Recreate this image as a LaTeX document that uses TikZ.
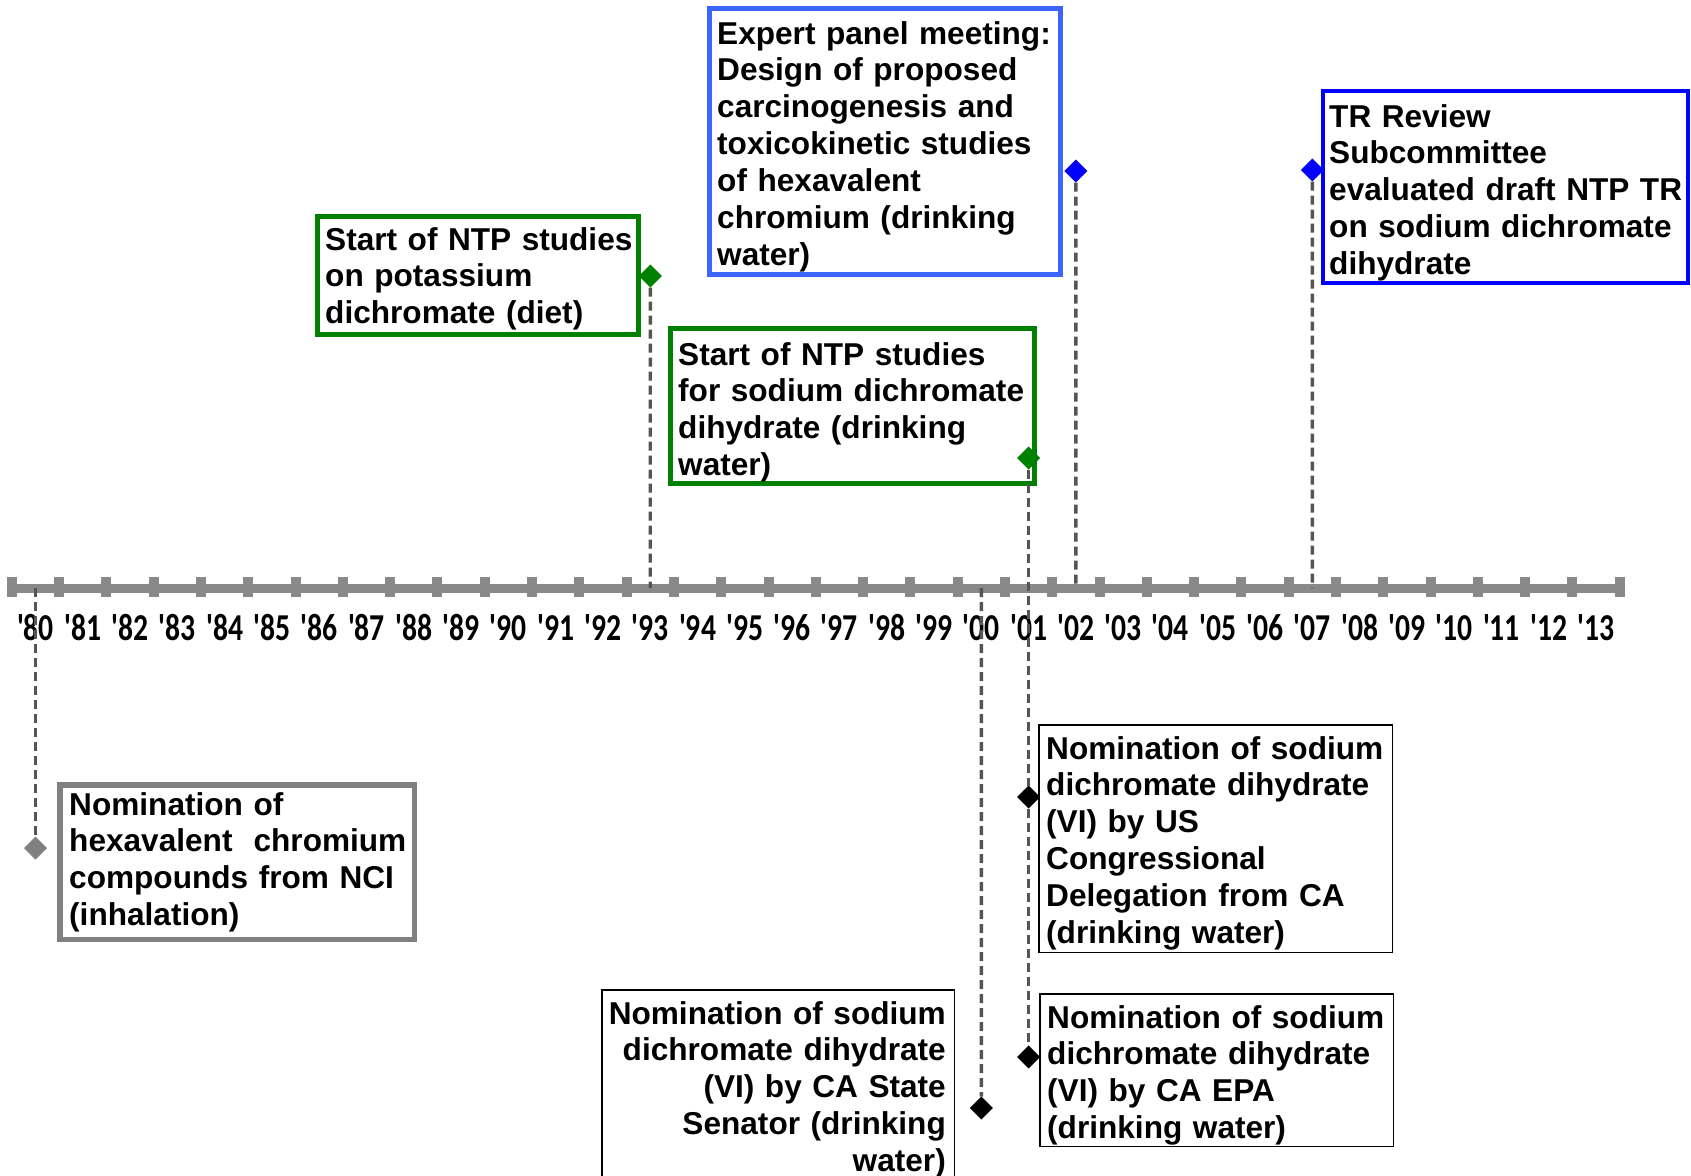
\documentclass[tikz,border=0pt]{standalone}
\usepackage{fontspec}
\setmainfont{Liberation Sans}
\newfontfamily\yearfont{Carlito}
\usetikzlibrary{shapes.geometric}

\definecolor{axisgray}{RGB}{137,137,137}
\definecolor{linkgray}{RGB}{85,85,85}
\definecolor{ntpgreen}{RGB}{0,128,0}
\definecolor{panelblue}{RGB}{60,100,255}
\definecolor{trblue}{RGB}{0,0,255}
\definecolor{nomgray}{RGB}{128,128,128}

\tikzset{
  frame/.style={draw, inner sep=0pt, outer sep=0pt, anchor=north west},
  boxtext/.style={inner sep=0pt, text width=420pt, align=left, anchor=base west,
    font=\fontsize{31.6}{36.9}\selectfont\bfseries},
  boxtextr/.style={boxtext, align=right, anchor=base east},
  yearlabel/.style={inner sep=0pt, anchor=base,
    font=\fontsize{38}{40}\yearfont\bfseries},
  eventmark/.style={diamond, minimum size=23pt, inner sep=0pt, outer sep=0pt, draw=none},
  conn/.style={draw=linkgray, line width=3.4pt, dash pattern=on 9pt off 5pt},
}

\begin{document}
\begin{tikzpicture}[x=1pt, y=-1pt]
\useasboundingbox (0,0) rectangle (1691,1175);

% time axis with half-year ticks
\draw[axisgray, line width=9pt] (11.85,588) -- (1619.7,588);
\foreach \k in {0,...,34}
  \fill[axisgray] ({35.5+(\k-0.5)*47.29-5},577) rectangle ({35.5+(\k-0.5)*47.29+5},597);

% year positions and labels
\foreach \lab [count=\i from 0] in {80,81,82,83,84,85,86,87,88,89,90,91,92,93,94,95,96,97,98,99,00,01,02,03,04,05,06,07,08,09,10,11,12,13} {
  \coordinate (yr\lab) at ({35.5+\i*47.29},588);
  \node[yearlabel] (lab\lab) at ({35.5+\i*47.29},640) {\scalebox{0.78}[1]{\textquotesingle\lab}};
}

% event boxes
\node[frame, draw=ntpgreen, line width=5pt, minimum width=321pt, minimum height=118pt] (f93) at (317.5,216.5) {};
\node[boxtext] (t93) at (325,250) {Start of NTP studies\\on potassium\\dichromate (diet)};

\node[frame, draw=ntpgreen, line width=5pt, minimum width=364pt, minimum height=155pt] (f01g) at (670.5,328.5) {};
\node[boxtext] (t01g) at (678,365) {Start of NTP studies\\for sodium dichromate\\dihydrate (drinking\\water)};

\node[frame, draw=panelblue, line width=5pt, minimum width=351pt, minimum height=266pt] (f02) at (709.5,8.5) {};
\node[boxtext] (t02) at (717,44) {Expert panel meeting:\\Design of proposed\\carcinogenesis and\\toxicokinetic studies\\of hexavalent\\chromium (drinking\\water)};

\node[frame, draw=trblue, line width=4pt, minimum width=365pt, minimum height=192pt] (f07) at (1323,91) {};
\node[boxtext] (t07) at (1329,127) {TR Review\\Subcommittee\\evaluated draft NTP TR\\on sodium dichromate\\dihydrate};

\node[frame, draw=nomgray, line width=5.5pt, minimum width=354.5pt, minimum height=154.5pt] (f80) at (59.75,784.75) {};
\node[boxtext] (t80) at (69,815) {Nomination of\\hexavalent\ \ chromium\\compounds from NCI\\(inhalation)};

\node[frame, draw=black, line width=1.5pt, minimum width=353.5pt, minimum height=227.5pt] (f01a) at (1038.75,724.75) {};
\node[boxtext] (t01a) at (1046,759) {Nomination of sodium\\dichromate dihydrate\\(VI) by US\\Congressional\\Delegation from CA\\(drinking water)};

\node[frame, draw=black, line width=1.5pt, minimum width=353.5pt, minimum height=152.5pt] (f01b) at (1039.75,993.75) {};
\node[boxtext] (t01b) at (1047,1028) {Nomination of sodium\\dichromate dihydrate\\(VI) by CA EPA\\(drinking water)};

\node[frame, draw=black, line width=1.5pt, minimum width=352.5pt, minimum height=250pt] (f00) at (601.75,989.75) {};
\node[boxtextr] (t00) at (946,1024) {Nomination of sodium\\dichromate dihydrate\\(VI) by CA State\\Senator (drinking\\water)};

% event markers
\node[eventmark, fill=ntpgreen] (d93) at (650.3,276) {};
\node[eventmark, fill=ntpgreen] (d01g) at (1028.6,458) {};
\node[eventmark, fill=trblue] (d02) at (1075.9,171) {};
\node[eventmark, fill=trblue] (d07) at (1312.3,170) {};
\node[eventmark, fill=nomgray] (d80) at (35.5,848) {};
\node[eventmark, fill=black] (d01a) at (1028.6,797) {};
\node[eventmark, fill=black] (d01b) at (1028.6,1057) {};
\node[eventmark, fill=black] (d00) at (981.3,1108) {};

% drop lines from markers to the axis
\draw[conn] (d93) -- (yr93);
\draw[conn] (d02) -- (yr02);
\draw[conn] (d07) -- (yr07);
\draw[conn] (yr80) -- (d80);
\draw[conn] (yr00) -- (d00);
\draw[conn] (d01g) -- (d01a);
\draw[conn] (d01a) -- (d01b);
\end{tikzpicture}
\end{document}
